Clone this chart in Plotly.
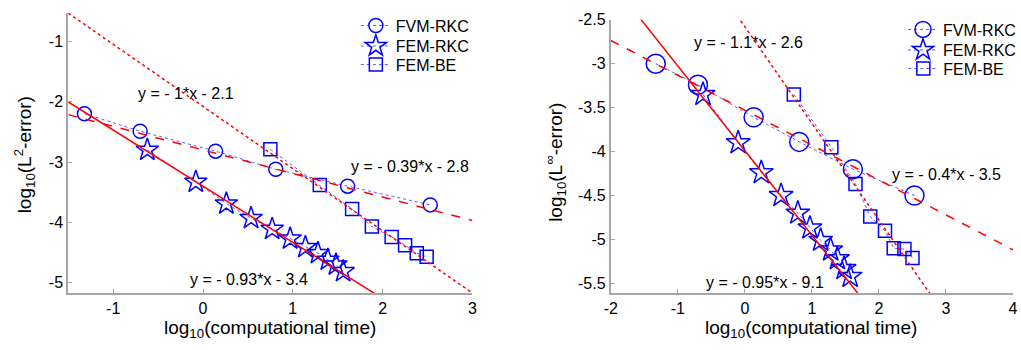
import plotly.graph_objects as go

# ---------------- data ----------------
# Left panel: log10(L2-error) vs log10(computational time)
l_fvm_x = [-1.32, -0.70, 0.14, 0.81, 1.61, 2.53]
l_fvm_y = [-2.20, -2.49, -2.82, -3.12, -3.40, -3.71]
l_femrkc_x = [-0.62, -0.08, 0.26, 0.535, 0.77, 0.97, 1.14, 1.28, 1.39, 1.48, 1.56]
l_femrkc_y = [-2.80, -3.33, -3.69, -3.93, -4.11, -4.27, -4.41, -4.51, -4.62, -4.70, -4.81]
l_febe_x = [0.75, 1.30, 1.66, 1.88, 2.10, 2.25, 2.38, 2.49]
l_febe_y = [-2.79, -3.38, -3.78, -4.07, -4.24, -4.38, -4.51, -4.57]

# Right panel: log10(Linf-error) vs log10(computational time)
r_fvm_x = [-1.33, -0.70, 0.13, 0.81, 1.61, 2.53]
r_fvm_y = [-3.00, -3.24, -3.61, -3.89, -4.20, -4.50]
r_femrkc_x = [-0.625, -0.10, 0.245, 0.54, 0.79, 0.97, 1.13, 1.28, 1.38, 1.48, 1.57]
r_femrkc_y = [-3.35, -3.90, -4.24, -4.50, -4.70, -4.87, -5.01, -5.12, -5.22, -5.33, -5.42]
r_febe_x = [0.73, 1.29, 1.65, 1.87, 2.09, 2.22, 2.38, 2.50]
r_febe_y = [-3.35, -3.95, -4.37, -4.74, -4.90, -5.10, -5.11, -5.21]

# Linear fits (slope, intercept) as drawn
l_fit_fvm = (-0.39, -2.80)
l_fit_femrkc = (-0.93, -3.40)
l_fit_febe = (-1.03, -2.08)
r_fit_fvm = (-0.397, -3.53)
r_fit_femrkc = (-0.963, -3.99)
r_fit_febe = (-1.10, -2.58)

# Fit labels
l_labels = ["y = - 1*x - 2.1", "y = - 0.39*x - 2.8", "y = - 0.93*x - 3.4"]
l_label_x = [-0.19, 2.30, 0.51]
l_label_y = [-1.86, -3.08, -4.94]
r_labels = ["y = - 1.1*x - 2.6", "y = - 0.4*x - 3.5", "y = - 0.95*x - 9.1"]
r_label_x = [0.05, 3.01, 0.30]
r_label_y = [-2.76, -4.26, -5.49]

series_names = ["FVM-RKC", "FEM-RKC", "FEM-BE"]

# Tick values / labels (MATLAB-style hyphen minus)
l_xticks = [-1, 0, 1, 2, 3]
l_xticklabels = ["-1", "0", "1", "2", "3"]
l_yticks = [-1, -2, -3, -4, -5]
l_yticklabels = ["-1", "-2", "-3", "-4", "-5"]
r_xticks = [-2, -1, 0, 1, 2, 3, 4]
r_xticklabels = ["-2", "-1", "0", "1", "2", "3", "4"]
r_yticks = [-2.5, -3, -3.5, -4, -4.5, -5, -5.5]
r_yticklabels = ["-2.5", "-3", "-3.5", "-4", "-4.5", "-5", "-5.5"]

l_xrange = [-1.5, 3.0]
l_yrange = [-5.17, -0.53]
r_xrange = [-2.0, 4.0]
r_yrange = [-5.61, -2.5]

# ---------------- figure ----------------
W, H = 1021, 350
BLUE = "#0000ff"
RED = "#ff0000"
FONT = "Arial, 'Liberation Sans', sans-serif"
AXC = "#a6a6a6"

fig = go.Figure()


def add_panel(xa, ya, legs, data, sizes):
    syms = ["circle-open", "star-open", "square-open"]
    for (x, y), name, sym, sz, leg in zip(data, series_names, syms, sizes, legs):
        fig.add_trace(go.Scatter(
            x=x, y=y, name=name, mode="lines+markers",
            xaxis=xa, yaxis=ya, legend=leg,
            line=dict(color="#5a5aff", width=1, dash="dot"),
            marker=dict(symbol=sym, size=sz, color=BLUE,
                        line=dict(color=BLUE, width=1.5)),
        ))


def add_fits(xa, ya, xr, fits):
    dashes = ["dash", "solid", "dot"]
    for (m, b), d in zip(fits, dashes):
        fig.add_trace(go.Scatter(
            x=xr, y=[m * xr[0] + b, m * xr[1] + b], mode="lines",
            xaxis=xa, yaxis=ya, showlegend=False, hoverinfo="skip",
            line=dict(color=RED, width=1.5, dash=d),
        ))


add_panel("x", "y", ["legend", "legend2", "legend3"],
          [(l_fvm_x, l_fvm_y), (l_femrkc_x, l_femrkc_y), (l_febe_x, l_febe_y)],
          [14, 17, 13])
add_panel("x2", "y2", ["legend4", "legend5", "legend6"],
          [(r_fvm_x, r_fvm_y), (r_femrkc_x, r_femrkc_y), (r_febe_x, r_febe_y)],
          [19, 18, 13])
add_fits("x", "y", l_xrange, [l_fit_fvm, l_fit_femrkc, l_fit_febe])
add_fits("x2", "y2", r_xrange, [r_fit_fvm, r_fit_femrkc, r_fit_febe])

axis_common = dict(
    showgrid=False, zeroline=False, showline=True, linecolor=AXC, linewidth=2,
    ticks="inside", ticklen=4, tickcolor=AXC, tickwidth=1, mirror=False,
    tickfont=dict(family=FONT, size=16, color="black"),
    tickmode="array",
)


def legend_at(xpx, ypx):
    return dict(x=xpx / W, y=1 - ypx / H, xanchor="left", yanchor="middle",
                bgcolor="rgba(0,0,0,0)", font=dict(family=FONT, size=16),
                itemwidth=30, tracegroupgap=0)


fig.update_layout(
    width=W, height=H,
    margin=dict(l=0, r=0, t=0, b=0),
    paper_bgcolor="white", plot_bgcolor="white",
    font=dict(family=FONT, color="black"),
    xaxis=dict(domain=[62 / W, 471 / W], range=l_xrange,
               tickvals=l_xticks, ticktext=l_xticklabels,
               anchor="y", **axis_common),
    yaxis=dict(domain=[1 - 291.7 / H, 1 - 5 / H], range=l_yrange,
               tickvals=l_yticks, ticktext=l_yticklabels,
               anchor="x", **axis_common),
    xaxis2=dict(domain=[611 / W, 1018 / W], range=r_xrange,
                tickvals=r_xticks, ticktext=r_xticklabels,
                anchor="y2", **axis_common),
    yaxis2=dict(domain=[1 - 291.7 / H, 1 - 12 / H], range=r_yrange,
                tickvals=r_yticks, ticktext=r_yticklabels,
                anchor="x2", **axis_common),
    legend=legend_at(353, 18),
    legend2=legend_at(353, 39),
    legend3=legend_at(353, 58),
    legend4=legend_at(907, 22),
    legend5=legend_at(907, 43),
    legend6=legend_at(907, 62),
    showlegend=True,
)

annos = []
for t, x, y in zip(l_labels, l_label_x, l_label_y):
    annos.append(dict(text=t, x=x, y=y, xref="x", yref="y", showarrow=False,
                      font=dict(family=FONT, size=16, color="black")))
for t, x, y in zip(r_labels, r_label_x, r_label_y):
    annos.append(dict(text=t, x=x, y=y, xref="x2", yref="y2", showarrow=False,
                      font=dict(family=FONT, size=16, color="black")))

title_font = dict(family=FONT, size=19, color="black")
annos += [
    dict(text="log<sub>10</sub>(computational time)", x=266 / W, y=1 - 328 / H,
         xref="paper", yref="paper", showarrow=False, font=title_font,
         xanchor="center", yanchor="middle"),
    dict(text="log<sub>10</sub>(computational time)", x=814 / W, y=1 - 328 / H,
         xref="paper", yref="paper", showarrow=False, font=title_font,
         xanchor="center", yanchor="middle"),
    dict(text="log<sub>10</sub>(L<sup>2</sup>-error)", x=18 / W, y=1 - 150 / H,
         xref="paper", yref="paper", showarrow=False, font=title_font,
         textangle=-90, xanchor="center", yanchor="middle"),
    dict(text="log<sub>10</sub>(L<sup>\u221e</sup>-error)", x=555 / W, y=1 - 158 / H,
         xref="paper", yref="paper", showarrow=False, font=title_font,
         textangle=-90, xanchor="center", yanchor="middle"),
]
fig.update_layout(annotations=annos)

fig.write_html("out.html")
